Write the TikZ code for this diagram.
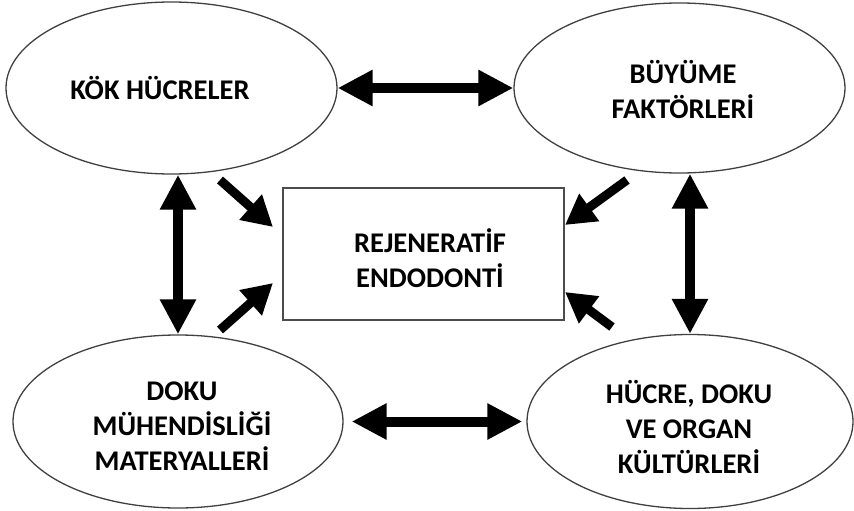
\documentclass[tikz,border=0pt]{standalone}
\usepackage{fontspec}
\setmainfont{Carlito}
\usetikzlibrary{shapes.geometric,arrows.meta}
\begin{document}
\begin{tikzpicture}[x=1pt,y=-1pt,
  lbl/.style={align=center,inner sep=0pt,font=\fontsize{28.5}{35}\selectfont\bfseries},
  oval/.style={ellipse,draw=black!75,line width=1.3pt,inner sep=0pt},
  box/.style={rectangle,draw=black!70,line width=1.6pt,inner sep=0pt},
  bigarrow/.style={line width=10pt,{Triangle[length=35pt,width=34pt]}-{Triangle[length=35pt,width=34pt]}},
  diagarrow/.style={line width=9pt,-{Triangle[length=30pt,width=32pt]}}]
\useasboundingbox (0,0) rectangle (854,511);
\node[oval,minimum width=331pt,minimum height=172pt] (kok) at (171.5,88) {};
\node[oval,minimum width=331pt,minimum height=170pt] (buy) at (679.5,88) {};
\node[oval,minimum width=330pt,minimum height=173pt] (dok) at (178,421.5) {};
\node[oval,minimum width=326pt,minimum height=174pt] (huc) at (690,421.5) {};
\node[box,minimum width=281pt,minimum height=132pt] (rej) at (423.5,254) {};
% labels
\node[lbl] (kokt) at (160,88) {KÖK HÜCRELER};
\node[lbl] (buyt) at (683,89) {BÜYÜME\\FAKTÖRLERİ};
\node[lbl] (dokt) at (182,426) {DOKU\\MÜHENDİSLİĞİ\\MATERYALLERİ};
\node[lbl] (huct) at (689,427) {HÜCRE, DOKU\\VE ORGAN\\KÜLTÜRLERİ};
\node[lbl] (rejt) at (430,258) {REJENERATİF\\ENDODONTİ};
% double arrows
\draw[bigarrow] (kok) -- (buy);
\draw[bigarrow,shorten <=8pt,shorten >=4pt] (dok) -- (huc);
\draw[bigarrow] (dok.north) -- (dok.north |- kok.south);
\draw[bigarrow] (huc.north) -- (huc.north |- buy.south);
% diagonal arrows
\coordinate (t1) at (220,180); \coordinate (h1) at (273,227);
\coordinate (t2) at (627,180); \coordinate (h2) at (565,225);
\coordinate (t3) at (220,330); \coordinate (h3) at (273,283);
\coordinate (t4) at (612,327); \coordinate (h4) at (565,292);
\draw[diagarrow] (t1) -- (h1);
\draw[diagarrow] (t2) -- (h2);
\draw[diagarrow] (t3) -- (h3);
\draw[diagarrow] (t4) -- (h4);
\end{tikzpicture}
\end{document}
